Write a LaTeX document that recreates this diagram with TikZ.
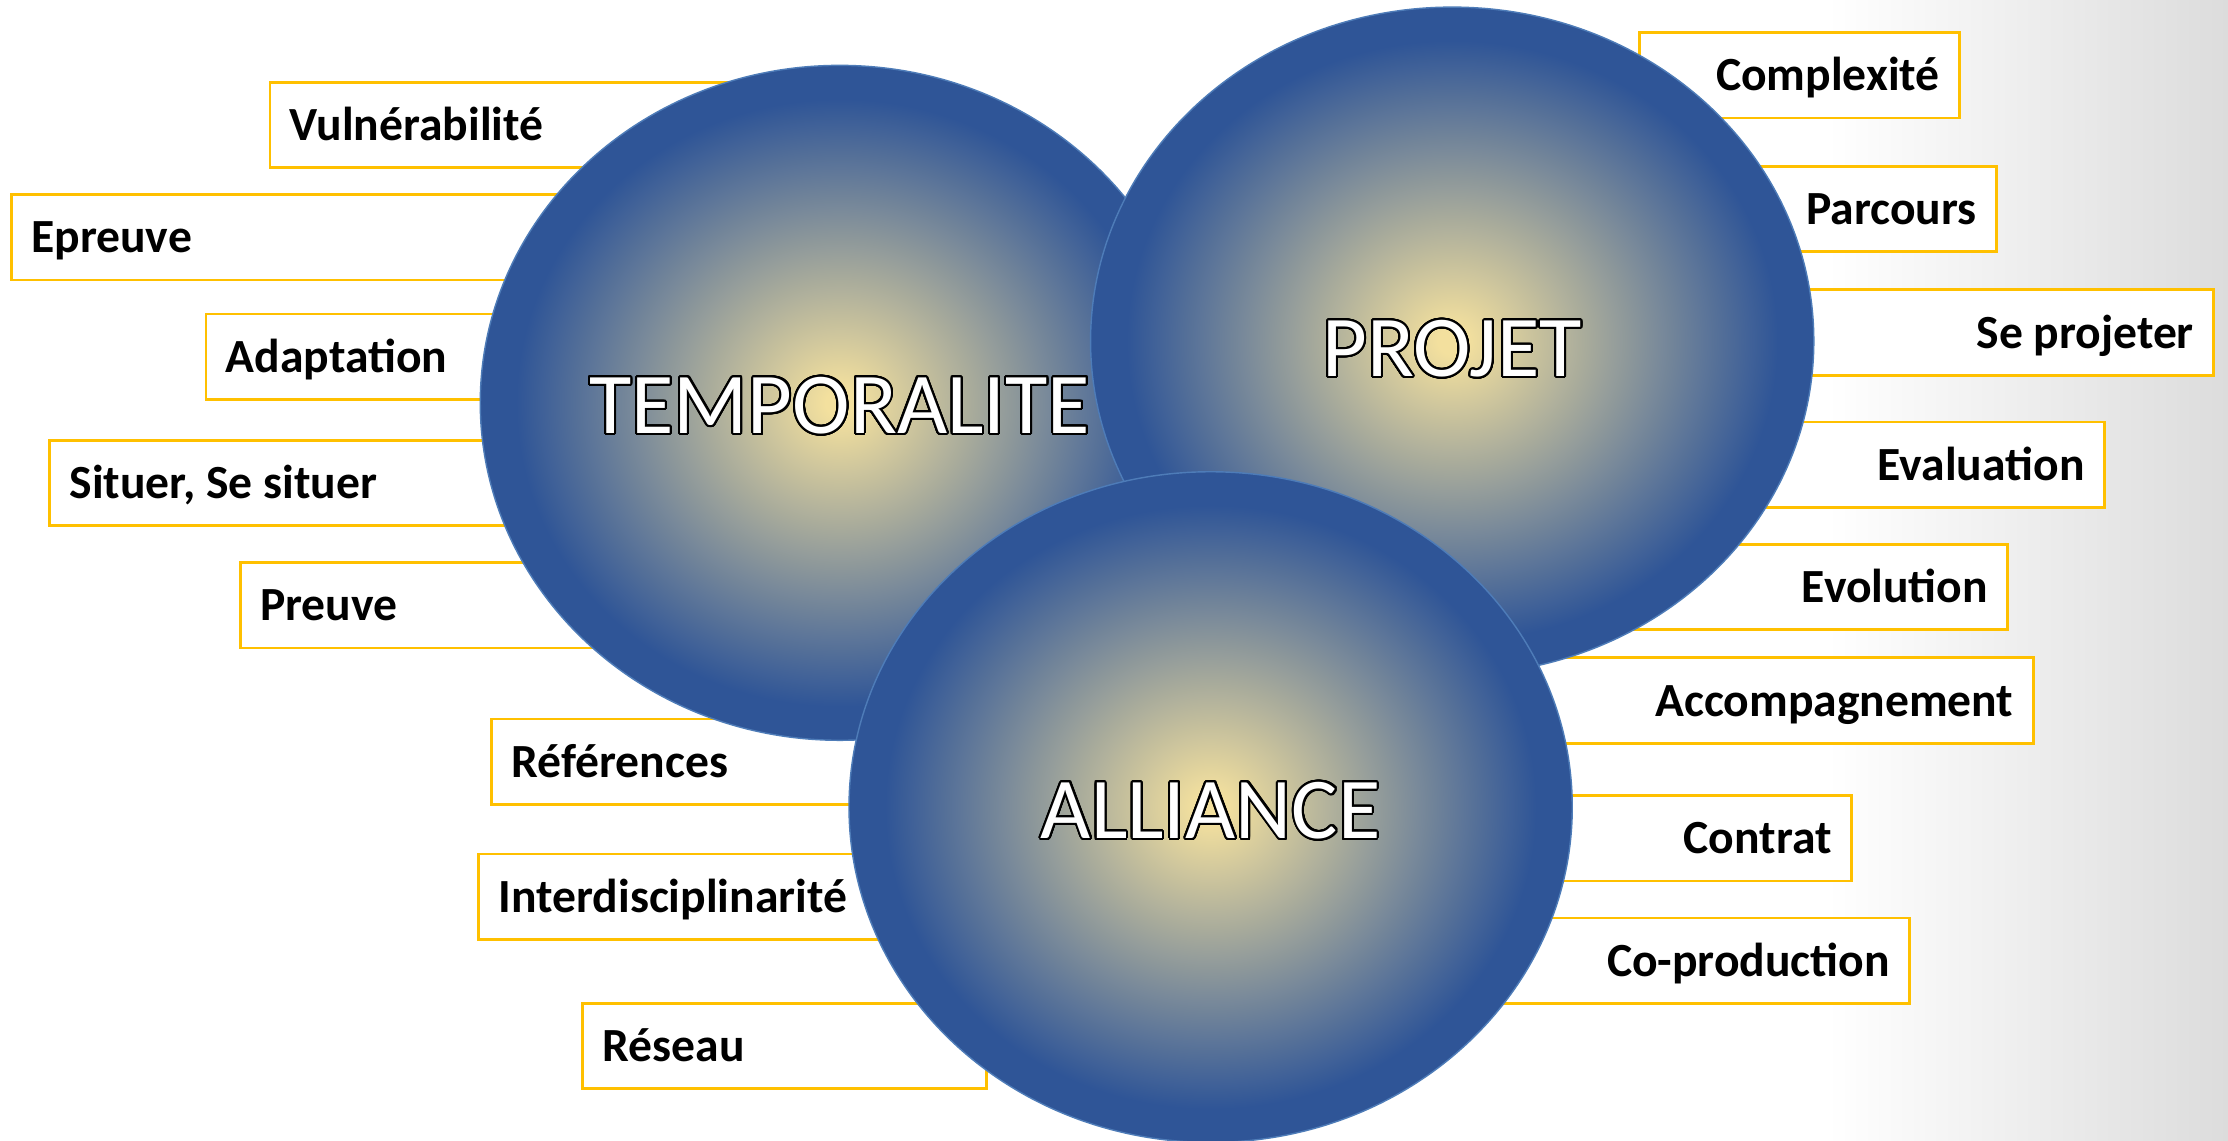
\documentclass[tikz,border=0pt]{standalone}
\usepackage{fontspec}
\setmainfont{Carlito}
\usepackage{contour}
\contourlength{1.4pt}
\contournumber{32}

\definecolor{tagyellow}{RGB}{255,192,0}
\definecolor{orbcore}{RGB}{243,224,158}
\definecolor{orbrim}{RGB}{47,85,151}
\definecolor{orbedge}{RGB}{78,124,184}
\definecolor{wallgrey}{RGB}{220,220,220}

\pgfdeclareradialshading{orbshade}{\pgfpoint{0bp}{0bp}}{color(0bp)=(orbcore); color(1bp)=(orbcore); color(22.5bp)=(orbrim); color(25bp)=(orbrim); color(50bp)=(orbrim)}
\pgfdeclarehorizontalshading{wallshade}{100bp}{color(0bp)=(white); color(25bp)=(white); color(66bp)=(white); color(75bp)=(wallgrey); color(100bp)=(wallgrey)}

\begin{document}
\begin{tikzpicture}[x=1pt,y=1pt,
  tag/.style={draw=tagyellow,line width=2pt,fill=white,minimum height=60pt,inner xsep=14pt,
    text height=26pt,text depth=4pt,font=\fontsize{33.5}{40}\selectfont\bfseries},
  tagleft/.style={tag,anchor=north west,align=left},
  tagright/.style={tag,anchor=north east,align=right},
  orb/.style={shading=orbshade,draw=orbedge,line width=1pt},
  orbtext/.style={anchor=base,text=white,font=\fontsize{61}{70}\selectfont}]
\useasboundingbox (0,0) rectangle (1568,-803);
\shade[shading=wallshade] (0,0) rectangle (1568,-803);

% left column of tags
\foreach \x/\y/\r/\n/\t in {189/57/560/vul/Vulnérabilité, 7/136/500/epr/Epreuve,
    144/220/500/ada/Adaptation, 34/309/500/sit/{Situer, Se situer}, 168/395/500/pre/Preuve,
    345/505/700/ref/Références, 336/600/700/int/Interdisciplinarité, 409/705/693/res/Réseau} {
  \pgfmathsetlengthmacro\tw{\r-\x-28}
  \node[tagleft,text width=\tw] (\n) at (\x,-\y) {\spaceskip=\fontdimen2\font\relax\t};
}
% right column of tags
\foreach \r/\y/\x/\n/\t in {1380/22/1155/com/Complexité, 1406/116/1150/par/Parcours,
    1559/203/1150/sep/Se projeter, 1482/296/1150/eva/Evaluation, 1414/382/1100/evo/Evolution,
    1432/462/1050/acc/Accompagnement, 1304/559/1050/con/Contrat, 1345/645/1030/cop/Co-production} {
  \pgfmathsetlengthmacro\tw{\r-\x-28}
  \node[tagright,text width=\tw] (\n) at (\r,-\y) {\spaceskip=\fontdimen2\font\relax\t};
}

% the three spheres
\shade[orb] (591,-283.5) ellipse [x radius=253, y radius=237.5];
\shade[orb] (1022,-240) ellipse [x radius=254.5, y radius=235];
\shade[orb] (852,-568) ellipse [x radius=254.5, y radius=236];

\node[orbtext] (temp) at (591,-305) {\contour{black}{TEMPORALITE}};
\node[orbtext] (proj) at (1022,-265) {\contour{black}{PROJET}};
\node[orbtext] (alli) at (852,-590) {\contour{black}{ALLIANCE}};
\end{tikzpicture}
\end{document}
